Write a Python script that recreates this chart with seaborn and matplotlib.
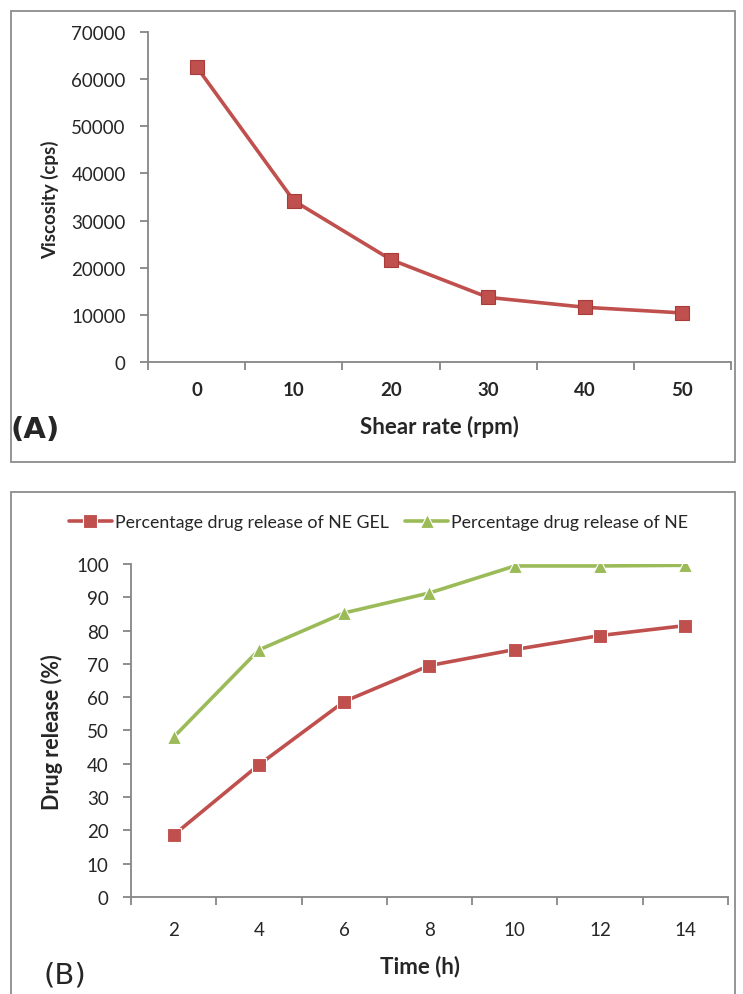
import matplotlib

matplotlib.use("Agg")
import matplotlib.pyplot as plt
import pandas as pd
import seaborn as sns
from matplotlib.patches import Rectangle
from matplotlib.ticker import FixedLocator

# panel A: viscosity vs shear rate
shear_rate = [0, 10, 20, 30, 40, 50]
viscosity = [62600, 34200, 21700, 13700, 11600, 10400]

# panel B: drug release over time
time_h = [2, 4, 6, 8, 10, 12, 14]
release_ne_gel = [18.6, 39.7, 58.7, 69.5, 74.3, 78.5, 81.5]
release_ne = [48.0, 74.2, 85.3, 91.3, 99.4, 99.4, 99.6]

RED = "#C0504D"
GREEN = "#9BBB59"
AXIS_GREY = "#868686"
TEXT = "#262626"

sns.set_style("white")
plt.rcParams["font.family"] = ["Lato", "DejaVu Sans"]


def style_axes(ax, step, xpad):
    sns.despine(ax=ax)
    for side in ("left", "bottom"):
        ax.spines[side].set_color(AXIS_GREY)
        ax.spines[side].set_linewidth(1.3)
    # category boundaries get the tick marks, labels sit in between
    lo, hi = ax.get_xlim()
    bounds = [lo + i * step for i in range(int(round((hi - lo) / step)) + 1)]
    ax.xaxis.set_minor_locator(FixedLocator(bounds))
    ax.tick_params(axis="x", which="major", length=0, labelsize=13.5, colors=TEXT, pad=xpad)
    ax.tick_params(axis="x", which="minor", length=6, width=1.3, color=AXIS_GREY,
                   direction="out", bottom=True)
    ax.tick_params(axis="y", length=6, width=1.3, color=AXIS_GREY, direction="out",
                   left=True, labelsize=13.5, labelcolor=TEXT, pad=10)


fig = plt.figure(figsize=(7.43, 9.95), dpi=100)

# panel frames
fig.patches.append(Rectangle((0.0148, 0.5347), 0.9744, 0.4533, transform=fig.transFigure,
                             fill=False, edgecolor="#8c8c8c", linewidth=1.3))
fig.patches.append(Rectangle((0.0148, -0.02), 0.9744, 0.5245, transform=fig.transFigure,
                             fill=False, edgecolor="#8c8c8c", linewidth=1.3))

# ---- (A)
ax_a = fig.add_axes([0.1992, 0.6352, 0.7847, 0.3317])
df_a = pd.DataFrame({"shear": shear_rate, "viscosity": viscosity})
sns.lineplot(data=df_a, x="shear", y="viscosity", ax=ax_a, color=RED, linewidth=2.6,
             marker="s", markersize=9.5, markeredgecolor="#A93C39", markeredgewidth=0.8)
ax_a.set_xlim(-5, 55)
ax_a.set_ylim(0, 70000)
ax_a.set_xticks(shear_rate)
ax_a.set_yticks(range(0, 70001, 10000))
style_axes(ax_a, 10, 14)
for lbl in ax_a.get_xticklabels():
    lbl.set_fontweight("bold")
ax_a.set_xlabel("Shear rate (rpm)", fontsize=16, fontweight="bold", color=TEXT, va="center")
ax_a.set_ylabel("Viscosity (cps)", fontsize=13.5, fontweight="bold", color=TEXT, va="center")
ax_a.xaxis.set_label_coords(0.50, -0.194)
ax_a.yaxis.set_label_coords(-0.168, 0.494)
fig.text(0.0135, 0.568, "(A)", fontsize=21, fontweight="bold",
         family=["DejaVu Sans"], va="center")

# ---- (B)
ax_b = fig.add_axes([0.1763, 0.0975, 0.8035, 0.3347])
df_b = pd.DataFrame({
    "time": time_h * 2,
    "release": release_ne_gel + release_ne,
    "series": ["Percentage drug release of NE GEL"] * len(time_h)
    + ["Percentage drug release of NE"] * len(time_h),
})
sns.lineplot(data=df_b, x="time", y="release", hue="series", style="series", ax=ax_b,
             palette=[RED, GREEN], markers=["s", "^"], dashes=False, linewidth=2.6,
             markersize=9.5, markeredgewidth=0.8)
ax_b.set_xlim(1, 15)
ax_b.set_ylim(0, 100)
ax_b.set_xticks(time_h)
ax_b.set_yticks(range(0, 101, 10))
style_axes(ax_b, 2, 17)
ax_b.set_xlabel("Time (h)", fontsize=16, fontweight="bold", color=TEXT, va="center")
ax_b.xaxis.set_label_coords(0.484, -0.207)
ax_b.set_ylabel("")
fig.text(0.070, 0.2643, "Drug release (%)", rotation=90, fontsize=15.5,
         fontweight="bold", color=TEXT, ha="center", va="center")
handles, labels = ax_b.get_legend_handles_labels()
ax_b.legend(handles, labels, loc="center", bbox_to_anchor=(0.415, 1.126), ncol=2,
            frameon=False, fontsize=12.8, handlelength=2.4, columnspacing=0.9,
            handletextpad=0.2, borderaxespad=0, labelcolor=TEXT)
fig.text(0.058, 0.020, "(B)", fontsize=21, family=["DejaVu Sans"], va="center")

plt.savefig("out.png", dpi=100)
plt.close()
